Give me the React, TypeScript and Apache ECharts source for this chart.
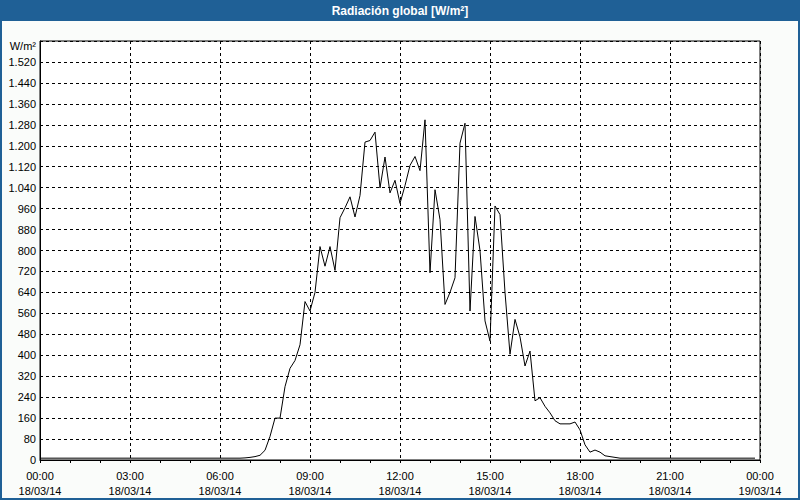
import React, { useEffect, useRef } from "react";
import * as echarts from "echarts";

const times = [
  "00:00", "06:40", "06:50", "07:00", "07:10", "07:20", "07:30", "07:40", "07:50",
  "08:00", "08:10", "08:20", "08:30", "08:40", "08:50",
  "09:00", "09:10", "09:20", "09:30", "09:40", "09:50",
  "10:00", "10:10", "10:20", "10:30", "10:40", "10:50",
  "11:00", "11:10", "11:20", "11:30", "11:40", "11:50",
  "12:00", "12:10", "12:20", "12:30", "12:40", "12:50",
  "13:00", "13:10", "13:20", "13:30", "13:40", "13:50",
  "14:00", "14:10", "14:20", "14:30", "14:40", "14:50",
  "15:00", "15:10", "15:20", "15:30", "15:40", "15:50",
  "16:00", "16:10", "16:20", "16:30", "16:40", "16:50",
  "17:00", "17:10", "17:20", "17:30", "17:40", "17:50",
  "18:00", "18:10", "18:20", "18:30", "18:40", "18:50",
  "19:00", "19:10", "19:20", "23:50",
];

const radiation = [
  7, 7, 8, 10, 13, 18, 37, 90, 160,
  160, 280, 350, 380, 440, 605,
  569, 640, 815, 740, 815, 724,
  925, 963, 1005, 928, 1010, 1214,
  1220, 1252, 1039, 1157, 1020, 1068,
  980, 1048, 1125, 1159, 1105, 1299,
  715, 1032, 918, 594, 640, 696,
  1210, 1286, 569, 930, 800, 531,
  454, 970, 937, 640, 404, 537,
  470, 359, 416, 226, 238, 205,
  180, 150, 138, 138, 138, 145,
  115, 58, 30, 38, 30, 16,
  13, 10, 7, 7,
];

const hourLabels = ["00:00", "03:00", "06:00", "09:00", "12:00", "15:00", "18:00", "21:00", "00:00"];
const dateLabels = ["18/03/14", "18/03/14", "18/03/14", "18/03/14", "18/03/14", "18/03/14", "18/03/14", "18/03/14", "19/03/14"];

const TITLE = "Radiación global [W/m²]";
const UNIT = "W/m²";

function toHours(t: string): number {
  const [h, m] = t.split(":").map(Number);
  return h + m / 60;
}

function fmtThousands(v: number): string {
  if (v >= 1000) {
    const k = Math.floor(v / 1000);
    const r = String(v % 1000).padStart(3, "0");
    return k + "." + r;
  }
  return String(v);
}

export default function App() {
  const ref = useRef<HTMLDivElement>(null);

  useEffect(() => {
    document.body.style.margin = "0";
    if (!ref.current) return;
    const chart = echarts.init(ref.current, null, { renderer: "svg" });
    const blue = "#1f6096";
    const font = "'Liberation Sans', Arial, sans-serif";

    chart.setOption({
      animation: false,
      backgroundColor: "#fafcfa",
      grid: {
        left: 40,
        right: 40,
        top: 41,
        bottom: 40,
        show: true,
        backgroundColor: "#ffffff",
        borderColor: "#000000",
        borderWidth: 1,
      },
      xAxis: {
        type: "value",
        min: 0,
        max: 24,
        interval: 3,
        axisLine: { show: true, lineStyle: { color: "#000", width: 1 } },
        axisTick: { show: true, inside: false, length: 3, lineStyle: { color: "#000" } },
        minorTick: { show: true, splitNumber: 3, length: 3, lineStyle: { color: "#000" } },
        splitLine: { show: true, lineStyle: { color: "#000", type: [3, 3], width: 1 } },
        axisLabel: {
          color: "#000",
          fontFamily: font,
          fontSize: 11,
          lineHeight: 15,
          margin: 8,
          formatter: (v: number) => {
            const i = Math.round(v / 3);
            return hourLabels[i] + "\n" + dateLabels[i];
          },
        },
      },
      yAxis: {
        type: "value",
        min: 0,
        max: 1600,
        interval: 80,
        axisLine: { show: true, lineStyle: { color: "#000", width: 1 } },
        axisTick: { show: false },
        splitLine: { show: true, lineStyle: { color: "#000", type: [3, 3], width: 1 } },
        axisLabel: {
          color: "#000",
          fontFamily: font,
          fontSize: 11,
          margin: 4,
          formatter: (v: number) => (v >= 1600 ? "" : fmtThousands(v)),
        },
      },
      series: [
        {
          type: "line",
          data: times.map((t, i) => [toHours(t), radiation[i]]),
          showSymbol: false,
          symbol: "none",
          lineStyle: { color: "#000", width: 1 },
          z: 3,
        },
      ],
      graphic: [
        { type: "rect", shape: { x: 0, y: 0, width: 800, height: 21 }, style: { fill: blue }, z: 10 },
        { type: "rect", shape: { x: 0, y: 0, width: 2, height: 500 }, style: { fill: blue }, z: 10 },
        { type: "rect", shape: { x: 798, y: 0, width: 2, height: 500 }, style: { fill: blue }, z: 10 },
        { type: "rect", shape: { x: 0, y: 498, width: 800, height: 2 }, style: { fill: blue }, z: 10 },
        {
          type: "text",
          x: 400,
          y: 10.5,
          z: 11,
          style: {
            text: TITLE,
            fill: "#ffffff",
            font: "bold 12px " + font,
            textAlign: "center",
            textVerticalAlign: "middle",
          },
        },
        {
          type: "text",
          x: 36,
          y: 46,
          z: 11,
          style: {
            text: UNIT,
            fill: "#000",
            font: "11px " + font,
            textAlign: "right",
            textVerticalAlign: "middle",
          },
        },
      ],
    });
    return () => chart.dispose();
  }, []);

  return <div ref={ref} style={{ width: 800, height: 500, position: "fixed", left: 0, top: 0 }} />;
}
